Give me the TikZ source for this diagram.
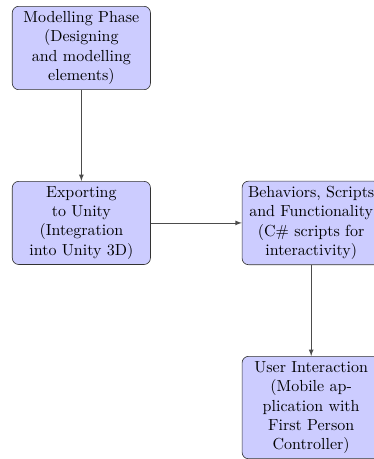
\documentclass[tikz,border=0pt]{standalone}
\usetikzlibrary{positioning}
\tikzset{
  phase/.style={draw=black!80, fill=blue!20, rounded corners=4pt, text width=2.8cm, align=center, inner sep=3.33pt},
  flow/.style={-latex, draw=black!70}
}
\begin{document}
\begin{tikzpicture}[node distance=2cm]
\useasboundingbox (0,0) rectangle (233.75pt,-286.9pt);
\node[phase, anchor=north west] (model) at (7.5pt,-3.75pt) {Modelling Phase\\(Designing\\and modelling\\elements)};
\node[phase, below=of model] (export) {Exporting\\to Unity\\(Integration\\into Unity 3D)};
\node[phase, right=of export] (behav) {Behaviors, Scripts\\and Functionality\\(C\# scripts for\\interactivity)};
\node[phase, below=of behav] (user) {User Interaction\\(Mobile ap-\\plication with\\First Person\\Controller)};
\draw[flow] (model) -- (export);
\draw[flow] (export) -- (behav);
\draw[flow] (behav) -- (user);
\end{tikzpicture}
\end{document}
